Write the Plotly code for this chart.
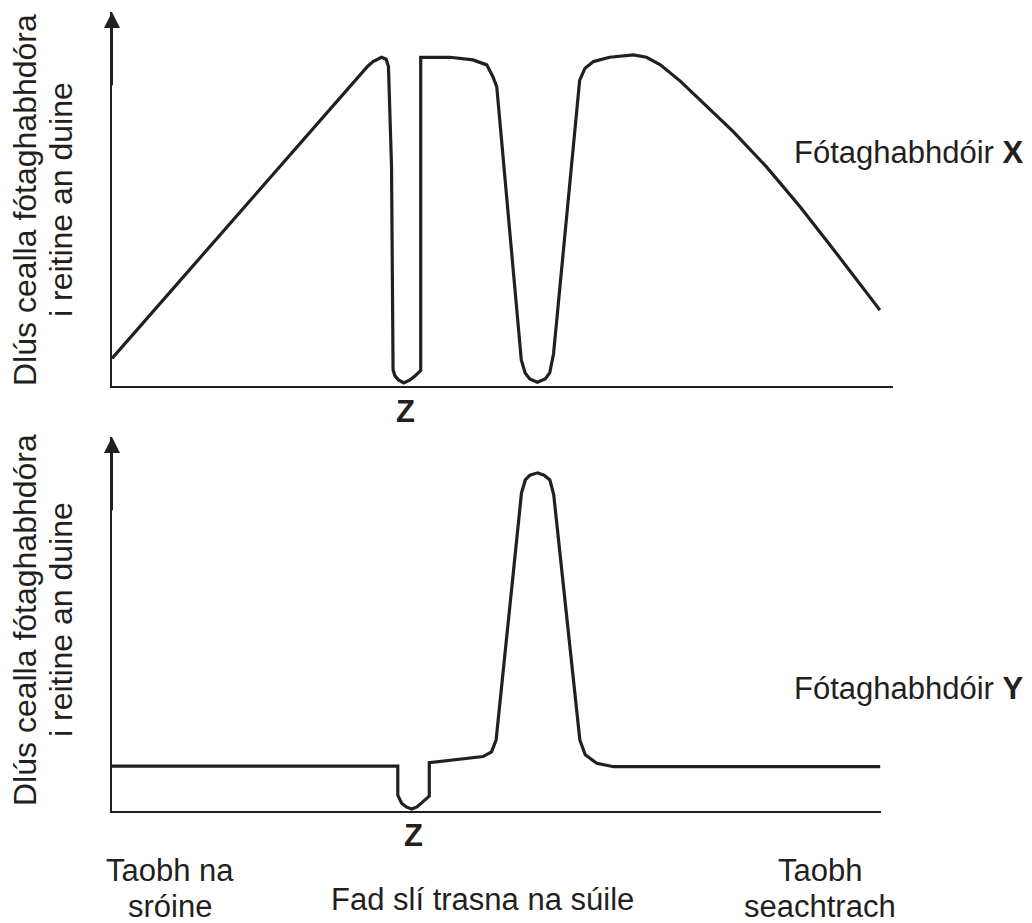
import plotly.graph_objects as go

# Photoreceptor X density across the retina (arbitrary units)
x_X = [0, 32.3, 33.3, 34.0, 35.1, 35.7, 36.0, 36.4, 36.6, 36.85, 37.3, 38.0, 38.8,
       39.45, 40.2, 40.2, 44.0, 47.0, 48.8, 49.6, 50.1, 53.3, 53.8, 54.4, 55.4,
       56.4, 57.0, 57.5, 60.9, 61.6, 62.7, 64.8, 67.9, 69.6, 71.4, 74.0, 76.6,
       80.9, 85.2, 89.6, 93.9, 97.0, 100]
y_X = [8.2, 93.9, 96.6, 98.0, 99.3, 98.7, 96.5, 66.2, 4.7, 2.9, 1.7, 0.8, 1.7,
       2.9, 4.5, 99.3, 99.3, 98.5, 97.0, 93.4, 90.4, 7.7, 3.8, 2.0, 1.0,
       2.0, 3.8, 9.7, 92.4, 96.0, 98.0, 99.3, 100, 99.3, 97.0, 92.1, 86.4,
       76.8, 66.2, 54.1, 41.3, 31.9, 22.8]

# Photoreceptor Y density across the retina (arbitrary units)
x_Y = [0, 37.2, 37.2, 37.7, 38.3, 39.0, 39.7, 40.3, 41.3, 41.3, 48.3, 49.4, 50.0,
       53.3, 53.8, 54.4, 55.4, 56.25, 57.0, 57.5, 60.9, 61.6, 63.1, 65.3, 100]
y_Y = [13.3, 13.3, 4.7, 2.3, 1.2, 0.6, 1.2, 2.3, 4.4, 14.3, 16.1, 17.5, 21.0,
       94.0, 97.9, 99.3, 100, 99.3, 97.9, 93.5, 21.0, 16.6, 14.1, 13.1, 13.1]

ylabel_1 = "Dlús cealla fótaghabhdóra"
ylabel_2 = "i reitine an duine"
label_X = "Fótaghabhdóir <b>X</b>"
label_Y = "Fótaghabhdóir <b>Y</b>"
z_label = "<b>Z</b>"
x_title = "Fad slí trasna na súile"
left_side = ["Taobh na", "sróine"]
right_side = ["Taobh", "seachtrach"]

INK = "#231f20"
FONT = "Liberation Sans, Arial, sans-serif"
OFF = 8            # page body margin
W, H = 1032 - 2 * OFF, 923 - OFF

def px(v):
    return (v - OFF) / W

def py(v):
    return 1 - (v - OFF) / H

fig = go.Figure()
fig.add_trace(go.Scatter(x=x_X, y=y_X, mode="lines", xaxis="x", yaxis="y",
                         line=dict(color=INK, width=3.2), hoverinfo="skip"))
fig.add_trace(go.Scatter(x=x_Y, y=y_Y, mode="lines", xaxis="x2", yaxis="y2",
                         line=dict(color=INK, width=3.2), hoverinfo="skip"))

axis_common = dict(showgrid=False, zeroline=False, showticklabels=False,
                   ticks="", showline=True, linecolor=INK, linewidth=2,
                   fixedrange=True)

fig.update_layout(
    width=W, height=H,
    margin=dict(l=0, r=0, t=0, b=0),
    paper_bgcolor="white", plot_bgcolor="white",
    showlegend=False,
    font=dict(family=FONT, color=INK, size=32),
    xaxis=dict(domain=[px(112), px(893)], range=[0, 101.7], anchor="y", **axis_common),
    yaxis=dict(domain=[py(385.5), py(12)], range=[0, 113.0], anchor="x", **axis_common),
    xaxis2=dict(domain=[px(112), px(881)], range=[0, 100.1], anchor="y2", **axis_common),
    yaxis2=dict(domain=[py(811), py(437)], range=[0, 110.6], anchor="x2", **axis_common),
)

ann = []
# axis arrowheads
for xr, yr, top in (("x", "y", 113.0), ("x2", "y2", 110.6)):
    ann.append(dict(x=0, y=top, ax=0, ay=top * 0.8, xref=xr, yref=yr,
                    axref=xr, ayref=yr, showarrow=True, arrowhead=2,
                    arrowsize=1.6, arrowwidth=2, arrowcolor=INK, text=""))

def text(t, x, y, size=32, angle=0, xanchor="center"):
    ann.append(dict(text=t, x=px(x), y=py(y), xref="paper", yref="paper",
                    showarrow=False, xanchor=xanchor, yanchor="middle",
                    textangle=angle, font=dict(size=size, family=FONT, color=INK)))

for off in (0, 420):
    text(ylabel_1, 25, 200 + off, angle=-90)
    text(ylabel_2, 61, 200 + off, angle=-90)

text(label_X, 792, 152, size=31, xanchor="left")
text(label_Y, 792, 688, size=31, xanchor="left")
text(z_label, 405, 411, size=31)
text(z_label, 413, 835, size=31)
text(left_side[0], 170, 870, size=31)
text(left_side[1], 170, 906, size=31)
text(right_side[0], 820, 870, size=31)
text(right_side[1], 820, 906, size=31)
text(x_title, 482, 899, size=31)

fig.update_layout(annotations=ann)
fig.write_html("out.html")
